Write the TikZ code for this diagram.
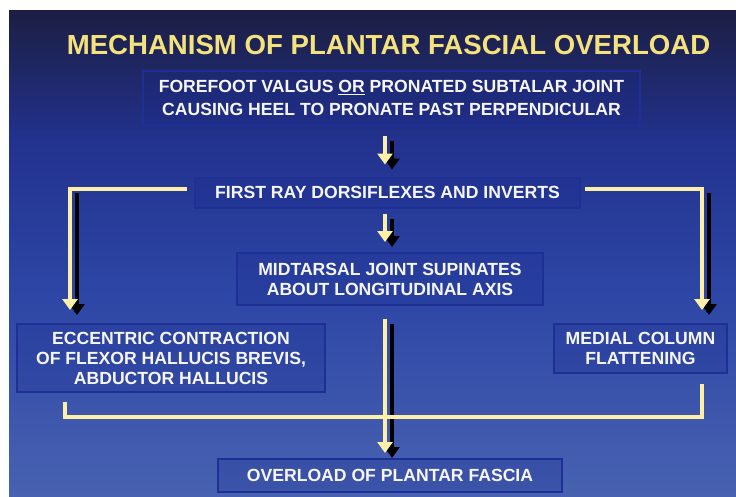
\documentclass[tikz,border=0pt]{standalone}
\usepackage{fontspec}
\setmainfont{Liberation Sans}
\usetikzlibrary{arrows.meta,calc}
\definecolor{arrowyel}{HTML}{FDF0A6}
\definecolor{titleyel}{HTML}{F4E27C}
\definecolor{boxline}{HTML}{1E2F96}
\definecolor{boxfill}{HTML}{1A2A90}
\definecolor{boxtext}{HTML}{F6F6F6}
\definecolor{bgA}{HTML}{1C1E42}
\definecolor{bgB}{HTML}{22328E}
\definecolor{bgC}{HTML}{2E47A6}
\definecolor{bgD}{HTML}{4862B1}
\begin{document}
\begin{tikzpicture}[x=1pt,y=-1pt,
  box/.style={draw=boxline, line width=2pt, fill=boxfill, fill opacity=0.25, text opacity=1,
    text=boxtext, inner sep=0pt, align=center, font=\bfseries\fontsize{17.6}{20}\selectfont},
  yarr/.style={draw=arrowyel, line width=4pt, -{Triangle[width=15pt,length=11pt]}},
  sarr/.style={draw=black, line width=4pt, -{Triangle[width=15pt,length=11pt]},
    transform canvas={xshift=7pt,yshift=-5pt}},
  link/.style={draw=arrowyel, line width=4pt, line join=miter}]
\useasboundingbox (0,0) rectangle (736,496);
\fill[white] (0,0) rectangle (736,496);
\shade[top color=bgA, bottom color=bgB] (9,10) rectangle (736,140);
\shade[top color=bgB, bottom color=bgC] (9,140) rectangle (736,300);
\shade[top color=bgC, bottom color=bgD] (9,300) rectangle (736,496);

\node[text=titleyel, font=\bfseries\fontsize{27.6}{30}\selectfont, anchor=base] (title) at (388.5,54)
  {MECHANISM OF PLANTAR FASCIAL OVERLOAD};

\node[box, minimum width=497, minimum height=54, font=\bfseries\fontsize{17.6}{23}\selectfont] (b1) at (391.5,98)
  {FOREFOOT VALGUS \underline{OR} PRONATED SUBTALAR JOINT\\CAUSING HEEL TO PRONATE PAST PERPENDICULAR};
\node[box, minimum width=385, minimum height=30] (b2) at (387.5,192.5)
  {FIRST RAY DORSIFLEXES AND INVERTS};
\node[box, minimum width=306, minimum height=52] (b3) at (390,279)
  {MIDTARSAL JOINT SUPINATES\\ABOUT LONGITUDINAL AXIS};
\node[box, minimum width=308, minimum height=68] (b4) at (171,358)
  {ECCENTRIC CONTRACTION\\OF FLEXOR HALLUCIS BREVIS,\\ABDUCTOR HALLUCIS};
\node[box, minimum width=173, minimum height=49] (b5) at (640.5,348.5)
  {MEDIAL COLUMN\\FLATTENING};
\node[box, minimum width=344, minimum height=33] (b6) at (390,475.5)
  {OVERLOAD OF PLANTAR FASCIA};

\coordinate (ax) at (385,0);
\coordinate (lc) at (70,188);
\coordinate (rc) at (702,188);
\coordinate (bl) at (65,417);
\coordinate (br) at (702,417);

% shadows
\draw[sarr, shorten <=10pt, shorten >=12pt] (b1.south -| ax) -- (b2.north -| ax);
\draw[sarr, shorten <=5pt, shorten >=10pt] (b2.south -| ax) -- (b3.north -| ax);
\draw[sarr, shorten >=13pt] (lc) -- (b4.north -| lc);
\draw[sarr, shorten >=13pt] (rc) -- (b5.north -| rc);
\draw[sarr, shorten <=13pt, shorten >=5pt] (b3.south -| ax) -- (b6.north -| ax);

% bracket
\draw[link, shorten <=9pt, shorten >=10pt] (b4.south -| bl) -- (bl) -- (br) -- (b5.south -| br);

% yellow arrows
\draw[yarr, shorten <=10pt, shorten >=12pt] (b1.south -| ax) -- (b2.north -| ax);
\draw[yarr, shorten <=5pt, shorten >=10pt] (b2.south -| ax) -- (b3.north -| ax);
\draw[yarr, shorten <=7pt, shorten >=13pt] ([yshift=4pt]b2.west) -| (b4.north -| lc);
\draw[yarr, shorten <=4pt, shorten >=13pt] ([yshift=4pt]b2.east) -| (b5.north -| rc);
\draw[yarr, shorten <=13pt, shorten >=5pt] (b3.south -| ax) -- (b6.north -| ax);
\end{tikzpicture}
\end{document}
